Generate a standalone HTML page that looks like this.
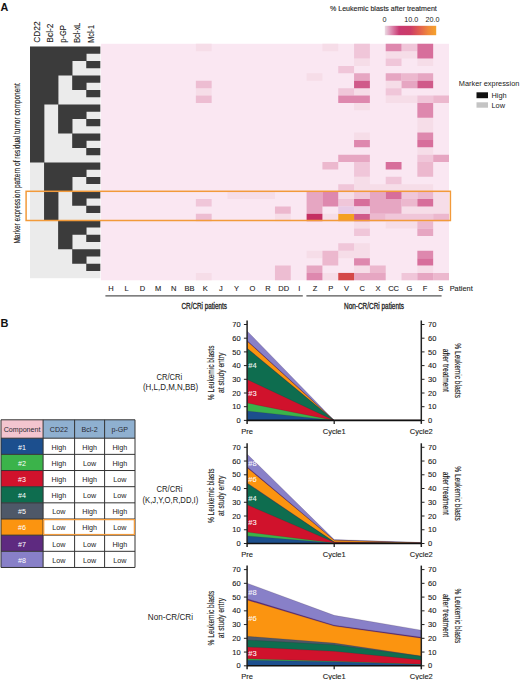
<!DOCTYPE html><html><head><meta charset="utf-8"><style>html,body{margin:0;padding:0;background:#fff;}svg{display:block;}text{font-family:"Liberation Sans", sans-serif;}</style></head><body>
<svg width="520" height="680" viewBox="0 0 520 680">
<rect width="520" height="680" fill="#fff"/>
<rect x="100.9" y="43.8" width="348.10" height="236.50" fill="#fae7f2"/>
<path d="M195.84,43.80h15.82v7.39h-15.82ZM322.42,43.80h15.82v7.39h-15.82ZM385.71,51.19h15.82v7.39h-15.82ZM401.53,51.19h15.82v7.39h-15.82ZM354.06,58.58h15.82v7.39h-15.82ZM417.35,58.58h15.82v7.39h-15.82ZM306.60,73.36h15.82v7.39h-15.82ZM385.71,80.75h15.82v7.39h-15.82ZM195.84,88.14h15.82v7.39h-15.82ZM354.06,88.14h15.82v7.39h-15.82ZM385.71,95.53h15.82v7.39h-15.82ZM401.53,95.53h15.82v7.39h-15.82ZM354.06,102.92h15.82v7.39h-15.82ZM417.35,117.71h15.82v7.39h-15.82ZM417.35,125.10h15.82v7.39h-15.82ZM354.06,132.49h15.82v7.39h-15.82ZM417.35,147.27h15.82v7.39h-15.82ZM354.06,176.83h15.82v7.39h-15.82ZM354.06,184.22h15.82v7.39h-15.82ZM369.89,184.22h15.82v7.39h-15.82ZM385.71,184.22h15.82v7.39h-15.82ZM401.53,184.22h15.82v7.39h-15.82ZM417.35,184.22h15.82v7.39h-15.82ZM227.48,191.61h15.82v7.39h-15.82ZM243.30,191.61h15.82v7.39h-15.82ZM259.13,191.61h15.82v7.39h-15.82ZM338.24,191.61h15.82v7.39h-15.82ZM433.18,191.61h15.82v7.39h-15.82ZM433.18,199.00h15.82v7.39h-15.82ZM401.53,206.39h15.82v7.39h-15.82ZM417.35,206.39h15.82v7.39h-15.82ZM433.18,206.39h15.82v7.39h-15.82ZM274.95,213.78h15.82v7.39h-15.82ZM322.42,213.78h15.82v7.39h-15.82ZM354.06,221.18h15.82v7.39h-15.82ZM385.71,221.18h15.82v7.39h-15.82ZM401.53,221.18h15.82v7.39h-15.82ZM354.06,243.35h15.82v7.39h-15.82ZM306.60,250.74h15.82v7.39h-15.82ZM338.24,250.74h15.82v7.39h-15.82ZM354.06,250.74h15.82v7.39h-15.82ZM354.06,265.52h15.82v7.39h-15.82ZM417.35,265.52h15.82v7.39h-15.82ZM195.84,272.91h15.82v7.39h-15.82ZM322.42,272.91h15.82v7.39h-15.82Z" fill="#f6dde8"/>
<path d="M354.06,43.80h15.82v7.39h-15.82ZM401.53,43.80h15.82v7.39h-15.82ZM354.06,51.19h15.82v7.39h-15.82ZM385.71,58.58h15.82v7.39h-15.82ZM338.24,65.97h15.82v7.39h-15.82ZM338.24,88.14h15.82v7.39h-15.82ZM385.71,88.14h15.82v7.39h-15.82ZM417.35,95.53h15.82v7.39h-15.82ZM417.35,154.66h15.82v7.39h-15.82ZM354.06,162.05h15.82v7.39h-15.82ZM354.06,169.44h15.82v7.39h-15.82ZM385.71,176.83h15.82v7.39h-15.82ZM338.24,184.22h15.82v7.39h-15.82ZM354.06,191.61h15.82v7.39h-15.82ZM401.53,191.61h15.82v7.39h-15.82ZM195.84,199.00h15.82v7.39h-15.82ZM338.24,199.00h15.82v7.39h-15.82ZM385.71,213.78h15.82v7.39h-15.82ZM401.53,213.78h15.82v7.39h-15.82ZM417.35,213.78h15.82v7.39h-15.82ZM354.06,228.57h15.82v7.39h-15.82ZM338.24,243.35h15.82v7.39h-15.82ZM401.53,272.91h15.82v7.39h-15.82Z" fill="#f0c6d9"/>
<path d="M401.53,73.36h15.82v7.39h-15.82ZM433.18,95.53h15.82v7.39h-15.82ZM322.42,162.05h15.82v7.39h-15.82ZM417.35,162.05h15.82v7.39h-15.82ZM417.35,169.44h15.82v7.39h-15.82ZM417.35,191.61h15.82v7.39h-15.82ZM401.53,199.00h15.82v7.39h-15.82ZM274.95,206.39h15.82v7.39h-15.82ZM369.89,213.78h15.82v7.39h-15.82ZM433.18,213.78h15.82v7.39h-15.82ZM417.35,221.18h15.82v7.39h-15.82ZM322.42,250.74h15.82v7.39h-15.82ZM322.42,258.13h15.82v7.39h-15.82ZM369.89,265.52h15.82v7.39h-15.82ZM433.18,272.91h15.82v7.39h-15.82Z" fill="#ecb8ce"/>
<path d="M354.06,73.36h15.82v7.39h-15.82ZM385.71,73.36h15.82v7.39h-15.82ZM417.35,73.36h15.82v7.39h-15.82ZM401.53,80.75h15.82v7.39h-15.82ZM338.24,154.66h15.82v7.39h-15.82ZM354.06,154.66h15.82v7.39h-15.82ZM433.18,154.66h15.82v7.39h-15.82ZM306.60,191.61h15.82v7.39h-15.82ZM369.89,191.61h15.82v7.39h-15.82ZM306.60,199.00h15.82v7.39h-15.82ZM369.89,199.00h15.82v7.39h-15.82ZM385.71,199.00h15.82v7.39h-15.82ZM306.60,206.39h15.82v7.39h-15.82ZM369.89,206.39h15.82v7.39h-15.82ZM385.71,206.39h15.82v7.39h-15.82ZM417.35,228.57h15.82v7.39h-15.82ZM306.60,265.52h15.82v7.39h-15.82ZM354.06,272.91h15.82v7.39h-15.82ZM369.89,272.91h15.82v7.39h-15.82ZM417.35,272.91h15.82v7.39h-15.82Z" fill="#e6a6c2"/>
<path d="M385.71,43.80h15.82v7.39h-15.82ZM338.24,95.53h15.82v7.39h-15.82ZM354.06,95.53h15.82v7.39h-15.82ZM417.35,102.92h15.82v7.39h-15.82ZM417.35,110.32h15.82v7.39h-15.82ZM417.35,132.49h15.82v7.39h-15.82ZM354.06,139.88h15.82v7.39h-15.82ZM322.42,191.61h15.82v7.39h-15.82ZM322.42,199.00h15.82v7.39h-15.82ZM417.35,250.74h15.82v7.39h-15.82ZM354.06,258.13h15.82v7.39h-15.82ZM306.60,272.91h15.82v7.39h-15.82Z" fill="#de88ae"/>
<path d="M417.35,43.80h15.82v7.39h-15.82ZM417.35,51.19h15.82v7.39h-15.82ZM417.35,139.88h15.82v7.39h-15.82ZM385.71,162.05h15.82v7.39h-15.82ZM385.71,191.61h15.82v7.39h-15.82ZM354.06,199.00h15.82v7.39h-15.82ZM417.35,199.00h15.82v7.39h-15.82ZM417.35,258.13h15.82v7.39h-15.82Z" fill="#d76e9b"/>
<path d="M354.06,80.75h15.82v7.39h-15.82ZM417.35,80.75h15.82v7.39h-15.82ZM354.06,213.78h15.82v7.39h-15.82Z" fill="#d05a8a"/>
<path d="M306.60,213.78h15.82v7.39h-15.82Z" fill="#c42f62"/>
<path d="M338.24,213.78h15.82v7.39h-15.82Z" fill="#f4a020"/>
<path d="M338.24,272.91h15.82v7.39h-15.82Z" fill="#d44848"/>
<path d="M195.84,80.75h15.82v7.39h-15.82ZM195.84,95.53h15.82v7.39h-15.82ZM195.84,213.78h15.82v7.39h-15.82ZM274.95,265.52h15.82v7.39h-15.82ZM274.95,272.91h15.82v7.39h-15.82Z" fill="#edbdd2"/>
<path d="M338.24,206.39h15.82v7.39h-15.82Z" fill="#e8cbe6"/>
<path d="M354.06,206.39h15.82v7.39h-15.82Z" fill="#efd0e4"/>
<rect x="30.0" y="46.6" width="70.30" height="231.60" fill="#ebebeb"/>
<path d="M30.00,46.60H44.36V162.40H30.00ZM44.06,46.60H58.42V104.50H44.06ZM44.06,162.40H58.42V220.30H44.06ZM58.12,46.60H72.48V75.55H58.12ZM58.12,104.50H72.48V133.45H58.12ZM58.12,162.40H72.48V191.35H58.12ZM58.12,220.30H72.48V249.25H58.12ZM72.18,46.60H86.54V61.08H72.18ZM72.18,75.55H86.54V90.02H72.18ZM72.18,104.50H86.54V118.97H72.18ZM72.18,133.45H86.54V147.92H72.18ZM72.18,162.40H86.54V176.88H72.18ZM72.18,191.35H86.54V205.82H72.18ZM72.18,220.30H86.54V234.77H72.18ZM72.18,249.25H86.54V263.73H72.18ZM86.24,46.60H100.30V53.84H86.24ZM86.24,61.08H100.30V68.31H86.24ZM86.24,75.55H100.30V82.79H86.24ZM86.24,90.03H100.30V97.26H86.24ZM86.24,104.50H100.30V111.74H86.24ZM86.24,118.97H100.30V126.21H86.24ZM86.24,133.45H100.30V140.69H86.24ZM86.24,147.93H100.30V155.16H86.24ZM86.24,162.40H100.30V169.64H86.24ZM86.24,176.88H100.30V184.11H86.24ZM86.24,191.35H100.30V198.59H86.24ZM86.24,205.82H100.30V213.06H86.24ZM86.24,220.30H100.30V227.54H86.24ZM86.24,234.77H100.30V242.01H86.24ZM86.24,249.25H100.30V256.49H86.24ZM86.24,263.73H100.30V270.96H86.24Z" fill="#3b3b3b"/>
<rect x="26.1" y="191.3" width="424.3" height="29.2" fill="none" stroke="#f29a3a" stroke-width="1.5"/>
<text x="0.4" y="10.5" font-size="10.8" font-weight="bold" fill="#111">A</text>
<text x="0.6" y="327.2" font-size="11" font-weight="bold" fill="#111">B</text>
<text transform="translate(39.9,42.7) rotate(-90)" font-size="8.8" fill="#222" stroke="#222" stroke-width="0.1" textLength="21.3" lengthAdjust="spacingAndGlyphs">CD22</text>
<text transform="translate(52.6,42.7) rotate(-90)" font-size="8.8" fill="#222" stroke="#222" stroke-width="0.1" textLength="19.2" lengthAdjust="spacingAndGlyphs">Bcl-2</text>
<text transform="translate(66.0,42.7) rotate(-90)" font-size="8.8" fill="#222" stroke="#222" stroke-width="0.1" textLength="17.6" lengthAdjust="spacingAndGlyphs">p-GP</text>
<text transform="translate(79.6,42.7) rotate(-90)" font-size="8.8" fill="#222" stroke="#222" stroke-width="0.1" textLength="19.9" lengthAdjust="spacingAndGlyphs">Bcl-xL</text>
<text transform="translate(93.8,42.7) rotate(-90)" font-size="8.8" fill="#222" stroke="#222" stroke-width="0.1" textLength="17.7" lengthAdjust="spacingAndGlyphs">Mcl-1</text>
<text transform="translate(19.5,243.6) rotate(-90)" font-size="9.2" fill="#222" stroke="#222" stroke-width="0.15" textLength="160.4" lengthAdjust="spacingAndGlyphs">Marker expression pattern of residual tumor component</text>
<defs><linearGradient id="cb" x1="0" x2="1" y1="0" y2="0"><stop offset="0" stop-color="#eadbe3"/><stop offset="0.12" stop-color="#de90b4"/><stop offset="0.28" stop-color="#c93a72"/><stop offset="0.5" stop-color="#cc3c66"/><stop offset="0.68" stop-color="#e2604e"/><stop offset="0.85" stop-color="#f08a3a"/><stop offset="1" stop-color="#f5a22c"/></linearGradient></defs>
<rect x="384.8" y="25.8" width="51.4" height="9.4" fill="url(#cb)"/>
<text x="330" y="10.8" font-size="7.1" fill="#222" stroke="#222" stroke-width="0.12" textLength="106.8" lengthAdjust="spacingAndGlyphs">% Leukemic blasts after treatment</text>
<text x="384.4" y="22.2" font-size="7.2" fill="#222" text-anchor="middle">0</text>
<text x="411.3" y="22.2" font-size="7.2" fill="#222" text-anchor="middle">10.0</text>
<text x="432.5" y="22.2" font-size="7.2" fill="#222" text-anchor="middle">20.0</text>
<text x="458.8" y="85.9" font-size="7.6" fill="#222" textLength="60.6" lengthAdjust="spacingAndGlyphs">Marker expression</text>
<rect x="476.5" y="92.3" width="11.5" height="5.9" fill="#111"/>
<rect x="476.5" y="102.3" width="11.5" height="5.4" fill="#c4c4c4"/>
<text x="491.5" y="98" font-size="7.4" fill="#222">High</text>
<text x="491.5" y="108" font-size="7.4" fill="#222">Low</text>
<text x="111.00" y="290.6" font-size="7.5" fill="#222" stroke="#222" stroke-width="0.1" text-anchor="middle">H</text>
<text x="126.70" y="290.6" font-size="7.5" fill="#222" stroke="#222" stroke-width="0.1" text-anchor="middle">L</text>
<text x="142.40" y="290.6" font-size="7.5" fill="#222" stroke="#222" stroke-width="0.1" text-anchor="middle">D</text>
<text x="158.10" y="290.6" font-size="7.5" fill="#222" stroke="#222" stroke-width="0.1" text-anchor="middle">M</text>
<text x="173.80" y="290.6" font-size="7.5" fill="#222" stroke="#222" stroke-width="0.1" text-anchor="middle">N</text>
<text x="189.50" y="290.6" font-size="7.5" fill="#222" stroke="#222" stroke-width="0.1" text-anchor="middle">BB</text>
<text x="205.20" y="290.6" font-size="7.5" fill="#222" stroke="#222" stroke-width="0.1" text-anchor="middle">K</text>
<text x="220.90" y="290.6" font-size="7.5" fill="#222" stroke="#222" stroke-width="0.1" text-anchor="middle">J</text>
<text x="236.60" y="290.6" font-size="7.5" fill="#222" stroke="#222" stroke-width="0.1" text-anchor="middle">Y</text>
<text x="252.30" y="290.6" font-size="7.5" fill="#222" stroke="#222" stroke-width="0.1" text-anchor="middle">O</text>
<text x="268.00" y="290.6" font-size="7.5" fill="#222" stroke="#222" stroke-width="0.1" text-anchor="middle">R</text>
<text x="283.70" y="290.6" font-size="7.5" fill="#222" stroke="#222" stroke-width="0.1" text-anchor="middle">DD</text>
<text x="299.40" y="290.6" font-size="7.5" fill="#222" stroke="#222" stroke-width="0.1" text-anchor="middle">I</text>
<text x="315.10" y="290.6" font-size="7.5" fill="#222" stroke="#222" stroke-width="0.1" text-anchor="middle">Z</text>
<text x="330.80" y="290.6" font-size="7.5" fill="#222" stroke="#222" stroke-width="0.1" text-anchor="middle">P</text>
<text x="346.50" y="290.6" font-size="7.5" fill="#222" stroke="#222" stroke-width="0.1" text-anchor="middle">V</text>
<text x="362.20" y="290.6" font-size="7.5" fill="#222" stroke="#222" stroke-width="0.1" text-anchor="middle">C</text>
<text x="377.90" y="290.6" font-size="7.5" fill="#222" stroke="#222" stroke-width="0.1" text-anchor="middle">X</text>
<text x="393.60" y="290.6" font-size="7.5" fill="#222" stroke="#222" stroke-width="0.1" text-anchor="middle">CC</text>
<text x="409.30" y="290.6" font-size="7.5" fill="#222" stroke="#222" stroke-width="0.1" text-anchor="middle">G</text>
<text x="425.00" y="290.6" font-size="7.5" fill="#222" stroke="#222" stroke-width="0.1" text-anchor="middle">F</text>
<text x="440.70" y="290.6" font-size="7.5" fill="#222" stroke="#222" stroke-width="0.1" text-anchor="middle">S</text>
<text x="449.7" y="290.6" font-size="7.5" fill="#222" stroke="#222" stroke-width="0.1" textLength="23" lengthAdjust="spacingAndGlyphs">Patient</text>
<line x1="105.4" y1="295.8" x2="302.8" y2="295.8" stroke="#555" stroke-width="1.2"/>
<line x1="306.4" y1="295.8" x2="441.6" y2="295.8" stroke="#555" stroke-width="1.2"/>
<text x="181.5" y="308.5" font-size="8.4" fill="#222" stroke="#222" stroke-width="0.3" textLength="45.4" lengthAdjust="spacingAndGlyphs">CR/CRi patients</text>
<text x="344" y="308.5" font-size="8.4" fill="#222" stroke="#222" stroke-width="0.3" textLength="60" lengthAdjust="spacingAndGlyphs">Non-CR/CRi patients</text>
<rect x="1.0" y="419.8" width="42.1" height="18.4" fill="#f3c5cf"/>
<rect x="43.1" y="419.8" width="91.9" height="18.4" fill="#8fb0d0"/>
<text x="22.05" y="431.50" font-size="7.1" fill="#2a2a33" text-anchor="middle">Component</text>
<text x="58.85" y="431.50" font-size="7.1" fill="#2a2a33" text-anchor="middle">CD22</text>
<text x="89.60" y="431.50" font-size="7.1" fill="#2a2a33" text-anchor="middle">Bcl-2</text>
<text x="119.80" y="431.50" font-size="7.1" fill="#2a2a33" text-anchor="middle">p-GP</text>
<rect x="1.0" y="438.20" width="42.1" height="16.16" fill="#1c4f8e"/>
<text x="22.05" y="449.58" font-size="7.1" fill="#fff" text-anchor="middle">#1</text>
<text x="58.85" y="449.58" font-size="7.2" fill="#222" text-anchor="middle">High</text>
<text x="89.60" y="449.58" font-size="7.2" fill="#222" text-anchor="middle">High</text>
<text x="119.80" y="449.58" font-size="7.2" fill="#222" text-anchor="middle">High</text>
<rect x="1.0" y="454.36" width="42.1" height="16.16" fill="#3bb34a"/>
<text x="22.05" y="465.74" font-size="7.1" fill="#fff" text-anchor="middle">#2</text>
<text x="58.85" y="465.74" font-size="7.2" fill="#222" text-anchor="middle">High</text>
<text x="89.60" y="465.74" font-size="7.2" fill="#222" text-anchor="middle">Low</text>
<text x="119.80" y="465.74" font-size="7.2" fill="#222" text-anchor="middle">High</text>
<rect x="1.0" y="470.52" width="42.1" height="16.16" fill="#d0122c"/>
<text x="22.05" y="481.90" font-size="7.1" fill="#fff" text-anchor="middle">#3</text>
<text x="58.85" y="481.90" font-size="7.2" fill="#222" text-anchor="middle">High</text>
<text x="89.60" y="481.90" font-size="7.2" fill="#222" text-anchor="middle">High</text>
<text x="119.80" y="481.90" font-size="7.2" fill="#222" text-anchor="middle">Low</text>
<rect x="1.0" y="486.68" width="42.1" height="16.16" fill="#0e6d4f"/>
<text x="22.05" y="498.06" font-size="7.1" fill="#fff" text-anchor="middle">#4</text>
<text x="58.85" y="498.06" font-size="7.2" fill="#222" text-anchor="middle">High</text>
<text x="89.60" y="498.06" font-size="7.2" fill="#222" text-anchor="middle">Low</text>
<text x="119.80" y="498.06" font-size="7.2" fill="#222" text-anchor="middle">Low</text>
<rect x="1.0" y="502.84" width="42.1" height="16.16" fill="#4e5868"/>
<text x="22.05" y="514.22" font-size="7.1" fill="#fff" text-anchor="middle">#5</text>
<text x="58.85" y="514.22" font-size="7.2" fill="#222" text-anchor="middle">Low</text>
<text x="89.60" y="514.22" font-size="7.2" fill="#222" text-anchor="middle">High</text>
<text x="119.80" y="514.22" font-size="7.2" fill="#222" text-anchor="middle">High</text>
<rect x="1.0" y="519.00" width="42.1" height="16.16" fill="#fb9410"/>
<text x="22.05" y="530.38" font-size="7.1" fill="#fff" text-anchor="middle">#6</text>
<text x="58.85" y="530.38" font-size="7.2" fill="#222" text-anchor="middle">Low</text>
<text x="89.60" y="530.38" font-size="7.2" fill="#222" text-anchor="middle">High</text>
<text x="119.80" y="530.38" font-size="7.2" fill="#222" text-anchor="middle">Low</text>
<rect x="1.0" y="535.16" width="42.1" height="16.16" fill="#5e2a80"/>
<text x="22.05" y="546.54" font-size="7.1" fill="#fff" text-anchor="middle">#7</text>
<text x="58.85" y="546.54" font-size="7.2" fill="#222" text-anchor="middle">Low</text>
<text x="89.60" y="546.54" font-size="7.2" fill="#222" text-anchor="middle">Low</text>
<text x="119.80" y="546.54" font-size="7.2" fill="#222" text-anchor="middle">High</text>
<rect x="1.0" y="551.32" width="42.1" height="16.16" fill="#8880c8"/>
<text x="22.05" y="562.70" font-size="7.1" fill="#fff" text-anchor="middle">#8</text>
<text x="58.85" y="562.70" font-size="7.2" fill="#222" text-anchor="middle">Low</text>
<text x="89.60" y="562.70" font-size="7.2" fill="#222" text-anchor="middle">Low</text>
<text x="119.80" y="562.70" font-size="7.2" fill="#222" text-anchor="middle">Low</text>
<line x1="1.0" y1="419.8" x2="1.0" y2="567.48" stroke="#333" stroke-width="1"/>
<line x1="43.1" y1="419.8" x2="43.1" y2="567.48" stroke="#333" stroke-width="1"/>
<line x1="74.6" y1="419.8" x2="74.6" y2="567.48" stroke="#333" stroke-width="1"/>
<line x1="104.6" y1="419.8" x2="104.6" y2="567.48" stroke="#333" stroke-width="1"/>
<line x1="135.0" y1="419.8" x2="135.0" y2="567.48" stroke="#333" stroke-width="1"/>
<line x1="1.0" y1="419.8" x2="135.0" y2="419.8" stroke="#333" stroke-width="1"/>
<line x1="1.0" y1="438.20" x2="135.0" y2="438.20" stroke="#333" stroke-width="1"/>
<line x1="1.0" y1="454.36" x2="135.0" y2="454.36" stroke="#333" stroke-width="1"/>
<line x1="1.0" y1="470.52" x2="135.0" y2="470.52" stroke="#333" stroke-width="1"/>
<line x1="1.0" y1="486.68" x2="135.0" y2="486.68" stroke="#333" stroke-width="1"/>
<line x1="1.0" y1="502.84" x2="135.0" y2="502.84" stroke="#333" stroke-width="1"/>
<line x1="1.0" y1="519.00" x2="135.0" y2="519.00" stroke="#333" stroke-width="1"/>
<line x1="1.0" y1="535.16" x2="135.0" y2="535.16" stroke="#333" stroke-width="1"/>
<line x1="1.0" y1="551.32" x2="135.0" y2="551.32" stroke="#333" stroke-width="1"/>
<line x1="1.0" y1="567.48" x2="135.0" y2="567.48" stroke="#333" stroke-width="1"/>
<rect x="43.7" y="519.60" width="90.70" height="14.96" fill="none" stroke="#f29a3a" stroke-width="1.3"/>
<path d="M247.10,330.94 L334.20,420.40 L421.30,420.40 L421.30,420.40 L247.10,420.40 Z" fill="#8880c8"/>
<path d="M247.10,340.53 L334.20,420.40 L421.30,420.40 L421.30,420.40 L247.10,420.40 Z" fill="#5e2a80"/>
<path d="M247.10,341.21 L334.20,420.40 L421.30,420.40 L421.30,420.40 L247.10,420.40 Z" fill="#fb9410"/>
<path d="M247.10,348.20 L334.20,420.40 L421.30,420.40 L421.30,420.40 L247.10,420.40 Z" fill="#4e5868"/>
<path d="M247.10,348.48 L334.20,420.40 L421.30,420.40 L421.30,420.40 L247.10,420.40 Z" fill="#0e6d4f"/>
<path d="M247.10,379.44 L334.20,420.40 L421.30,420.40 L421.30,420.40 L247.10,420.40 Z" fill="#d0122c"/>
<path d="M247.10,403.00 L334.20,420.40 L421.30,420.40 L421.30,420.40 L247.10,420.40 Z" fill="#3bb34a"/>
<path d="M247.10,410.95 L334.20,420.40 L421.30,420.40 L421.30,420.40 L247.10,420.40 Z" fill="#1c4f8e"/>
<path d="M247.10,410.95 L334.20,420.40 L421.30,420.40" fill="none" stroke="#3a2030" stroke-opacity="0.35" stroke-width="0.5"/>
<path d="M247.10,403.00 L334.20,420.40 L421.30,420.40" fill="none" stroke="#3a2030" stroke-opacity="0.35" stroke-width="0.5"/>
<path d="M247.10,379.44 L334.20,420.40 L421.30,420.40" fill="none" stroke="#3a2030" stroke-opacity="0.35" stroke-width="0.5"/>
<path d="M247.10,348.48 L334.20,420.40 L421.30,420.40" fill="none" stroke="#3a2030" stroke-opacity="0.35" stroke-width="0.5"/>
<path d="M247.10,348.20 L334.20,420.40 L421.30,420.40" fill="none" stroke="#3a2030" stroke-opacity="0.35" stroke-width="0.5"/>
<path d="M247.10,341.21 L334.20,420.40 L421.30,420.40" fill="none" stroke="#3a2030" stroke-opacity="0.35" stroke-width="0.5"/>
<path d="M247.10,340.53 L334.20,420.40 L421.30,420.40" fill="none" stroke="#3a2030" stroke-opacity="0.35" stroke-width="0.5"/>
<path d="M247.10,330.94 L334.20,420.40 L421.30,420.40" fill="none" stroke="#3a2030" stroke-opacity="0.35" stroke-width="0.5"/>
<text x="248.30" y="368.20" font-size="7.5" fill="#fff" stroke="#fff" stroke-width="0.1" fill-opacity="0.92">#4</text>
<text x="248.30" y="395.60" font-size="7.5" fill="#fff" stroke="#fff" stroke-width="0.1" fill-opacity="0.92">#3</text>
<line x1="247.1" y1="320.50" x2="247.1" y2="423.90" stroke="#222" stroke-width="1.5"/>
<line x1="421.3" y1="320.50" x2="421.3" y2="423.90" stroke="#222" stroke-width="1.5"/>
<line x1="247.1" y1="420.40" x2="421.3" y2="420.40" stroke="#111" stroke-width="1.6"/>
<line x1="334.2" y1="420.40" x2="334.2" y2="423.90" stroke="#222" stroke-width="1.3"/>
<line x1="243.9" y1="420.40" x2="247.1" y2="420.40" stroke="#222" stroke-width="1"/>
<line x1="421.3" y1="420.40" x2="424.5" y2="420.40" stroke="#222" stroke-width="1"/>
<text x="240.6" y="423.00" font-size="7.5" fill="#222" stroke="#222" stroke-width="0.12" text-anchor="end">0</text>
<text x="428" y="423.00" font-size="7.5" fill="#222" stroke="#222" stroke-width="0.12">0</text>
<line x1="243.9" y1="406.70" x2="247.1" y2="406.70" stroke="#222" stroke-width="1"/>
<line x1="421.3" y1="406.70" x2="424.5" y2="406.70" stroke="#222" stroke-width="1"/>
<text x="240.6" y="409.30" font-size="7.5" fill="#222" stroke="#222" stroke-width="0.12" text-anchor="end">10</text>
<text x="428" y="409.30" font-size="7.5" fill="#222" stroke="#222" stroke-width="0.12">10</text>
<line x1="243.9" y1="393.00" x2="247.1" y2="393.00" stroke="#222" stroke-width="1"/>
<line x1="421.3" y1="393.00" x2="424.5" y2="393.00" stroke="#222" stroke-width="1"/>
<text x="240.6" y="395.60" font-size="7.5" fill="#222" stroke="#222" stroke-width="0.12" text-anchor="end">20</text>
<text x="428" y="395.60" font-size="7.5" fill="#222" stroke="#222" stroke-width="0.12">20</text>
<line x1="243.9" y1="379.30" x2="247.1" y2="379.30" stroke="#222" stroke-width="1"/>
<line x1="421.3" y1="379.30" x2="424.5" y2="379.30" stroke="#222" stroke-width="1"/>
<text x="240.6" y="381.90" font-size="7.5" fill="#222" stroke="#222" stroke-width="0.12" text-anchor="end">30</text>
<text x="428" y="381.90" font-size="7.5" fill="#222" stroke="#222" stroke-width="0.12">30</text>
<line x1="243.9" y1="365.60" x2="247.1" y2="365.60" stroke="#222" stroke-width="1"/>
<line x1="421.3" y1="365.60" x2="424.5" y2="365.60" stroke="#222" stroke-width="1"/>
<text x="240.6" y="368.20" font-size="7.5" fill="#222" stroke="#222" stroke-width="0.12" text-anchor="end">40</text>
<text x="428" y="368.20" font-size="7.5" fill="#222" stroke="#222" stroke-width="0.12">40</text>
<line x1="243.9" y1="351.90" x2="247.1" y2="351.90" stroke="#222" stroke-width="1"/>
<line x1="421.3" y1="351.90" x2="424.5" y2="351.90" stroke="#222" stroke-width="1"/>
<text x="240.6" y="354.50" font-size="7.5" fill="#222" stroke="#222" stroke-width="0.12" text-anchor="end">50</text>
<text x="428" y="354.50" font-size="7.5" fill="#222" stroke="#222" stroke-width="0.12">50</text>
<line x1="243.9" y1="338.20" x2="247.1" y2="338.20" stroke="#222" stroke-width="1"/>
<line x1="421.3" y1="338.20" x2="424.5" y2="338.20" stroke="#222" stroke-width="1"/>
<text x="240.6" y="340.80" font-size="7.5" fill="#222" stroke="#222" stroke-width="0.12" text-anchor="end">60</text>
<text x="428" y="340.80" font-size="7.5" fill="#222" stroke="#222" stroke-width="0.12">60</text>
<line x1="243.9" y1="324.50" x2="247.1" y2="324.50" stroke="#222" stroke-width="1"/>
<line x1="421.3" y1="324.50" x2="424.5" y2="324.50" stroke="#222" stroke-width="1"/>
<text x="240.6" y="327.10" font-size="7.5" fill="#222" stroke="#222" stroke-width="0.12" text-anchor="end">70</text>
<text x="428" y="327.10" font-size="7.5" fill="#222" stroke="#222" stroke-width="0.12">70</text>
<text x="247.10" y="433.60" font-size="7.5" fill="#222" stroke="#222" stroke-width="0.12" text-anchor="middle">Pre</text>
<text x="334.20" y="433.60" font-size="7.5" fill="#222" stroke="#222" stroke-width="0.12" text-anchor="middle">Cycle1</text>
<text x="421.30" y="433.60" font-size="7.5" fill="#222" stroke="#222" stroke-width="0.12" text-anchor="middle">Cycle2</text>
<text transform="translate(214.1,372.85) rotate(-90)" font-size="9" fill="#222" stroke="#222" stroke-width="0.15" text-anchor="middle" textLength="54.6" lengthAdjust="spacingAndGlyphs">% Leukemic blasts</text>
<text transform="translate(223.7,372.85) rotate(-90)" font-size="9" fill="#222" stroke="#222" stroke-width="0.15" text-anchor="middle" textLength="40.3" lengthAdjust="spacingAndGlyphs">at study entry</text>
<text transform="translate(454.6,370.65) rotate(90)" font-size="9" fill="#222" stroke="#222" stroke-width="0.15" text-anchor="middle" textLength="54.6" lengthAdjust="spacingAndGlyphs">% Leukemic blasts</text>
<text transform="translate(443.0,370.35) rotate(90)" font-size="9" fill="#222" stroke="#222" stroke-width="0.15" text-anchor="middle" textLength="43" lengthAdjust="spacingAndGlyphs">after treatment</text>
<text x="169.4" y="380.0" font-size="8.6" fill="#222" text-anchor="middle" textLength="25.8" lengthAdjust="spacingAndGlyphs">CR/CRi</text>
<text x="170.6" y="390.4" font-size="8.6" fill="#222" text-anchor="middle" textLength="55.3" lengthAdjust="spacingAndGlyphs">(H,L,D,M,N,BB)</text>
<path d="M247.10,454.03 L334.20,539.58 L421.30,542.50 L421.30,543.50 L247.10,543.50 Z" fill="#8880c8"/>
<path d="M247.10,466.68 L334.20,540.13 L421.30,542.66 L421.30,543.50 L247.10,543.50 Z" fill="#5e2a80"/>
<path d="M247.10,467.64 L334.20,540.20 L421.30,542.69 L421.30,543.50 L247.10,543.50 Z" fill="#fb9410"/>
<path d="M247.10,482.89 L334.20,541.99 L421.30,543.10 L421.30,543.50 L247.10,543.50 Z" fill="#4e5868"/>
<path d="M247.10,483.58 L334.20,542.06 L421.30,543.13 L421.30,543.50 L247.10,543.50 Z" fill="#0e6d4f"/>
<path d="M247.10,504.75 L334.20,542.33 L421.30,543.20 L421.30,543.50 L247.10,543.50 Z" fill="#d0122c"/>
<path d="M247.10,532.09 L334.20,543.02 L421.30,543.36 L421.30,543.50 L247.10,543.50 Z" fill="#3bb34a"/>
<path d="M247.10,535.94 L334.20,543.09 L421.30,543.39 L421.30,543.50 L247.10,543.50 Z" fill="#1c4f8e"/>
<path d="M247.10,535.94 L334.20,543.09 L421.30,543.39" fill="none" stroke="#3a2030" stroke-opacity="0.35" stroke-width="0.5"/>
<path d="M247.10,532.09 L334.20,543.02 L421.30,543.36" fill="none" stroke="#3a2030" stroke-opacity="0.35" stroke-width="0.5"/>
<path d="M247.10,504.75 L334.20,542.33 L421.30,543.20" fill="none" stroke="#3a2030" stroke-opacity="0.35" stroke-width="0.5"/>
<path d="M247.10,483.58 L334.20,542.06 L421.30,543.13" fill="none" stroke="#3a2030" stroke-opacity="0.35" stroke-width="0.5"/>
<path d="M247.10,482.89 L334.20,541.99 L421.30,543.10" fill="none" stroke="#3a2030" stroke-opacity="0.35" stroke-width="0.5"/>
<path d="M247.10,467.64 L334.20,540.20 L421.30,542.69" fill="none" stroke="#3a2030" stroke-opacity="0.35" stroke-width="0.5"/>
<path d="M247.10,466.68 L334.20,540.13 L421.30,542.66" fill="none" stroke="#3a2030" stroke-opacity="0.35" stroke-width="0.5"/>
<path d="M247.10,454.03 L334.20,539.58 L421.30,542.50" fill="none" stroke="#3a2030" stroke-opacity="0.35" stroke-width="0.5"/>
<text x="248.30" y="466.39" font-size="7.5" fill="#fff" stroke="#fff" stroke-width="0.1" fill-opacity="0.92">#8</text>
<text x="248.30" y="482.06" font-size="7.5" fill="#fff" stroke="#fff" stroke-width="0.1" fill-opacity="0.92">#6</text>
<text x="248.30" y="501.44" font-size="7.5" fill="#fff" stroke="#fff" stroke-width="0.1" fill-opacity="0.92">#4</text>
<text x="248.30" y="524.94" font-size="7.5" fill="#fff" stroke="#fff" stroke-width="0.1" fill-opacity="0.92">#3</text>
<line x1="247.1" y1="443.30" x2="247.1" y2="547.00" stroke="#222" stroke-width="1.5"/>
<line x1="421.3" y1="443.30" x2="421.3" y2="547.00" stroke="#222" stroke-width="1.5"/>
<line x1="247.1" y1="543.50" x2="421.3" y2="543.50" stroke="#111" stroke-width="1.6"/>
<line x1="334.2" y1="543.50" x2="334.2" y2="547.00" stroke="#222" stroke-width="1.3"/>
<line x1="243.9" y1="543.50" x2="247.1" y2="543.50" stroke="#222" stroke-width="1"/>
<line x1="421.3" y1="543.50" x2="424.5" y2="543.50" stroke="#222" stroke-width="1"/>
<text x="240.6" y="546.10" font-size="7.5" fill="#222" stroke="#222" stroke-width="0.12" text-anchor="end">0</text>
<text x="428" y="546.10" font-size="7.5" fill="#222" stroke="#222" stroke-width="0.12">0</text>
<line x1="243.9" y1="529.76" x2="247.1" y2="529.76" stroke="#222" stroke-width="1"/>
<line x1="421.3" y1="529.76" x2="424.5" y2="529.76" stroke="#222" stroke-width="1"/>
<text x="240.6" y="532.36" font-size="7.5" fill="#222" stroke="#222" stroke-width="0.12" text-anchor="end">10</text>
<text x="428" y="532.36" font-size="7.5" fill="#222" stroke="#222" stroke-width="0.12">10</text>
<line x1="243.9" y1="516.01" x2="247.1" y2="516.01" stroke="#222" stroke-width="1"/>
<line x1="421.3" y1="516.01" x2="424.5" y2="516.01" stroke="#222" stroke-width="1"/>
<text x="240.6" y="518.61" font-size="7.5" fill="#222" stroke="#222" stroke-width="0.12" text-anchor="end">20</text>
<text x="428" y="518.61" font-size="7.5" fill="#222" stroke="#222" stroke-width="0.12">20</text>
<line x1="243.9" y1="502.27" x2="247.1" y2="502.27" stroke="#222" stroke-width="1"/>
<line x1="421.3" y1="502.27" x2="424.5" y2="502.27" stroke="#222" stroke-width="1"/>
<text x="240.6" y="504.87" font-size="7.5" fill="#222" stroke="#222" stroke-width="0.12" text-anchor="end">30</text>
<text x="428" y="504.87" font-size="7.5" fill="#222" stroke="#222" stroke-width="0.12">30</text>
<line x1="243.9" y1="488.53" x2="247.1" y2="488.53" stroke="#222" stroke-width="1"/>
<line x1="421.3" y1="488.53" x2="424.5" y2="488.53" stroke="#222" stroke-width="1"/>
<text x="240.6" y="491.13" font-size="7.5" fill="#222" stroke="#222" stroke-width="0.12" text-anchor="end">40</text>
<text x="428" y="491.13" font-size="7.5" fill="#222" stroke="#222" stroke-width="0.12">40</text>
<line x1="243.9" y1="474.79" x2="247.1" y2="474.79" stroke="#222" stroke-width="1"/>
<line x1="421.3" y1="474.79" x2="424.5" y2="474.79" stroke="#222" stroke-width="1"/>
<text x="240.6" y="477.39" font-size="7.5" fill="#222" stroke="#222" stroke-width="0.12" text-anchor="end">50</text>
<text x="428" y="477.39" font-size="7.5" fill="#222" stroke="#222" stroke-width="0.12">50</text>
<line x1="243.9" y1="461.04" x2="247.1" y2="461.04" stroke="#222" stroke-width="1"/>
<line x1="421.3" y1="461.04" x2="424.5" y2="461.04" stroke="#222" stroke-width="1"/>
<text x="240.6" y="463.64" font-size="7.5" fill="#222" stroke="#222" stroke-width="0.12" text-anchor="end">60</text>
<text x="428" y="463.64" font-size="7.5" fill="#222" stroke="#222" stroke-width="0.12">60</text>
<line x1="243.9" y1="447.30" x2="247.1" y2="447.30" stroke="#222" stroke-width="1"/>
<line x1="421.3" y1="447.30" x2="424.5" y2="447.30" stroke="#222" stroke-width="1"/>
<text x="240.6" y="449.90" font-size="7.5" fill="#222" stroke="#222" stroke-width="0.12" text-anchor="end">70</text>
<text x="428" y="449.90" font-size="7.5" fill="#222" stroke="#222" stroke-width="0.12">70</text>
<text x="247.10" y="556.70" font-size="7.5" fill="#222" stroke="#222" stroke-width="0.12" text-anchor="middle">Pre</text>
<text x="334.20" y="556.70" font-size="7.5" fill="#222" stroke="#222" stroke-width="0.12" text-anchor="middle">Cycle1</text>
<text x="421.30" y="556.70" font-size="7.5" fill="#222" stroke="#222" stroke-width="0.12" text-anchor="middle">Cycle2</text>
<text transform="translate(214.1,495.80) rotate(-90)" font-size="9" fill="#222" stroke="#222" stroke-width="0.15" text-anchor="middle" textLength="54.6" lengthAdjust="spacingAndGlyphs">% Leukemic blasts</text>
<text transform="translate(223.7,495.80) rotate(-90)" font-size="9" fill="#222" stroke="#222" stroke-width="0.15" text-anchor="middle" textLength="40.3" lengthAdjust="spacingAndGlyphs">at study entry</text>
<text transform="translate(454.6,493.60) rotate(90)" font-size="9" fill="#222" stroke="#222" stroke-width="0.15" text-anchor="middle" textLength="54.6" lengthAdjust="spacingAndGlyphs">% Leukemic blasts</text>
<text transform="translate(443.0,493.30) rotate(90)" font-size="9" fill="#222" stroke="#222" stroke-width="0.15" text-anchor="middle" textLength="43" lengthAdjust="spacingAndGlyphs">after treatment</text>
<text x="169.5" y="492.2" font-size="8.6" fill="#222" text-anchor="middle" textLength="26" lengthAdjust="spacingAndGlyphs">CR/CRi</text>
<text x="170.4" y="502.8" font-size="8.6" fill="#222" text-anchor="middle" textLength="55.8" lengthAdjust="spacingAndGlyphs">(K,J,Y,O,R,DD,I)</text>
<path d="M247.10,583.21 L334.20,615.36 L421.30,630.21 L421.30,665.80 L247.10,665.80 Z" fill="#8880c8"/>
<path d="M247.10,598.73 L334.20,625.26 L421.30,637.21 L421.30,665.80 L247.10,665.80 Z" fill="#5e2a80"/>
<path d="M247.10,599.97 L334.20,626.08 L421.30,638.18 L421.30,665.80 L247.10,665.80 Z" fill="#fb9410"/>
<path d="M247.10,636.25 L334.20,643.12 L421.30,656.04 L421.30,665.80 L247.10,665.80 Z" fill="#4e5868"/>
<path d="M247.10,639.96 L334.20,644.77 L421.30,656.32 L421.30,665.80 L247.10,665.80 Z" fill="#0e6d4f"/>
<path d="M247.10,646.97 L334.20,651.37 L421.30,659.89 L421.30,665.80 L247.10,665.80 Z" fill="#d0122c"/>
<path d="M247.10,658.79 L334.20,661.13 L421.30,664.29 L421.30,665.80 L247.10,665.80 Z" fill="#3bb34a"/>
<path d="M247.10,660.17 L334.20,661.81 L421.30,664.43 L421.30,665.80 L247.10,665.80 Z" fill="#1c4f8e"/>
<path d="M247.10,660.17 L334.20,661.81 L421.30,664.43" fill="none" stroke="#3a2030" stroke-opacity="0.35" stroke-width="0.5"/>
<path d="M247.10,658.79 L334.20,661.13 L421.30,664.29" fill="none" stroke="#3a2030" stroke-opacity="0.35" stroke-width="0.5"/>
<path d="M247.10,646.97 L334.20,651.37 L421.30,659.89" fill="none" stroke="#3a2030" stroke-opacity="0.35" stroke-width="0.5"/>
<path d="M247.10,639.96 L334.20,644.77 L421.30,656.32" fill="none" stroke="#3a2030" stroke-opacity="0.35" stroke-width="0.5"/>
<path d="M247.10,636.25 L334.20,643.12 L421.30,656.04" fill="none" stroke="#3a2030" stroke-opacity="0.35" stroke-width="0.5"/>
<path d="M247.10,599.97 L334.20,626.08 L421.30,638.18" fill="none" stroke="#3a2030" stroke-opacity="0.35" stroke-width="0.5"/>
<path d="M247.10,598.73 L334.20,625.26 L421.30,637.21" fill="none" stroke="#3a2030" stroke-opacity="0.35" stroke-width="0.5"/>
<path d="M247.10,583.21 L334.20,615.36 L421.30,630.21" fill="none" stroke="#3a2030" stroke-opacity="0.35" stroke-width="0.5"/>
<text x="248.30" y="595.15" font-size="7.5" fill="#fff" stroke="#fff" stroke-width="0.1" fill-opacity="0.92">#8</text>
<text x="248.30" y="620.99" font-size="7.5" fill="#fff" stroke="#fff" stroke-width="0.1" fill-opacity="0.92">#6</text>
<text x="248.30" y="655.76" font-size="7.5" fill="#fff" stroke="#fff" stroke-width="0.1" fill-opacity="0.92">#3</text>
<line x1="247.1" y1="565.60" x2="247.1" y2="669.30" stroke="#222" stroke-width="1.5"/>
<line x1="421.3" y1="565.60" x2="421.3" y2="669.30" stroke="#222" stroke-width="1.5"/>
<line x1="247.1" y1="665.80" x2="421.3" y2="665.80" stroke="#111" stroke-width="1.6"/>
<line x1="334.2" y1="665.80" x2="334.2" y2="669.30" stroke="#222" stroke-width="1.3"/>
<line x1="243.9" y1="665.80" x2="247.1" y2="665.80" stroke="#222" stroke-width="1"/>
<line x1="421.3" y1="665.80" x2="424.5" y2="665.80" stroke="#222" stroke-width="1"/>
<text x="240.6" y="668.40" font-size="7.5" fill="#222" stroke="#222" stroke-width="0.12" text-anchor="end">0</text>
<text x="428" y="668.40" font-size="7.5" fill="#222" stroke="#222" stroke-width="0.12">0</text>
<line x1="243.9" y1="652.06" x2="247.1" y2="652.06" stroke="#222" stroke-width="1"/>
<line x1="421.3" y1="652.06" x2="424.5" y2="652.06" stroke="#222" stroke-width="1"/>
<text x="240.6" y="654.66" font-size="7.5" fill="#222" stroke="#222" stroke-width="0.12" text-anchor="end">10</text>
<text x="428" y="654.66" font-size="7.5" fill="#222" stroke="#222" stroke-width="0.12">10</text>
<line x1="243.9" y1="638.31" x2="247.1" y2="638.31" stroke="#222" stroke-width="1"/>
<line x1="421.3" y1="638.31" x2="424.5" y2="638.31" stroke="#222" stroke-width="1"/>
<text x="240.6" y="640.91" font-size="7.5" fill="#222" stroke="#222" stroke-width="0.12" text-anchor="end">20</text>
<text x="428" y="640.91" font-size="7.5" fill="#222" stroke="#222" stroke-width="0.12">20</text>
<line x1="243.9" y1="624.57" x2="247.1" y2="624.57" stroke="#222" stroke-width="1"/>
<line x1="421.3" y1="624.57" x2="424.5" y2="624.57" stroke="#222" stroke-width="1"/>
<text x="240.6" y="627.17" font-size="7.5" fill="#222" stroke="#222" stroke-width="0.12" text-anchor="end">30</text>
<text x="428" y="627.17" font-size="7.5" fill="#222" stroke="#222" stroke-width="0.12">30</text>
<line x1="243.9" y1="610.83" x2="247.1" y2="610.83" stroke="#222" stroke-width="1"/>
<line x1="421.3" y1="610.83" x2="424.5" y2="610.83" stroke="#222" stroke-width="1"/>
<text x="240.6" y="613.43" font-size="7.5" fill="#222" stroke="#222" stroke-width="0.12" text-anchor="end">40</text>
<text x="428" y="613.43" font-size="7.5" fill="#222" stroke="#222" stroke-width="0.12">40</text>
<line x1="243.9" y1="597.09" x2="247.1" y2="597.09" stroke="#222" stroke-width="1"/>
<line x1="421.3" y1="597.09" x2="424.5" y2="597.09" stroke="#222" stroke-width="1"/>
<text x="240.6" y="599.69" font-size="7.5" fill="#222" stroke="#222" stroke-width="0.12" text-anchor="end">50</text>
<text x="428" y="599.69" font-size="7.5" fill="#222" stroke="#222" stroke-width="0.12">50</text>
<line x1="243.9" y1="583.34" x2="247.1" y2="583.34" stroke="#222" stroke-width="1"/>
<line x1="421.3" y1="583.34" x2="424.5" y2="583.34" stroke="#222" stroke-width="1"/>
<text x="240.6" y="585.94" font-size="7.5" fill="#222" stroke="#222" stroke-width="0.12" text-anchor="end">60</text>
<text x="428" y="585.94" font-size="7.5" fill="#222" stroke="#222" stroke-width="0.12">60</text>
<line x1="243.9" y1="569.60" x2="247.1" y2="569.60" stroke="#222" stroke-width="1"/>
<line x1="421.3" y1="569.60" x2="424.5" y2="569.60" stroke="#222" stroke-width="1"/>
<text x="240.6" y="572.20" font-size="7.5" fill="#222" stroke="#222" stroke-width="0.12" text-anchor="end">70</text>
<text x="428" y="572.20" font-size="7.5" fill="#222" stroke="#222" stroke-width="0.12">70</text>
<text x="247.10" y="679.00" font-size="7.5" fill="#222" stroke="#222" stroke-width="0.12" text-anchor="middle">Pre</text>
<text x="334.20" y="679.00" font-size="7.5" fill="#222" stroke="#222" stroke-width="0.12" text-anchor="middle">Cycle1</text>
<text x="421.30" y="679.00" font-size="7.5" fill="#222" stroke="#222" stroke-width="0.12" text-anchor="middle">Cycle2</text>
<text transform="translate(214.1,618.10) rotate(-90)" font-size="9" fill="#222" stroke="#222" stroke-width="0.15" text-anchor="middle" textLength="54.6" lengthAdjust="spacingAndGlyphs">% Leukemic blasts</text>
<text transform="translate(223.7,618.10) rotate(-90)" font-size="9" fill="#222" stroke="#222" stroke-width="0.15" text-anchor="middle" textLength="40.3" lengthAdjust="spacingAndGlyphs">at study entry</text>
<text transform="translate(454.6,615.90) rotate(90)" font-size="9" fill="#222" stroke="#222" stroke-width="0.15" text-anchor="middle" textLength="54.6" lengthAdjust="spacingAndGlyphs">% Leukemic blasts</text>
<text transform="translate(443.0,615.60) rotate(90)" font-size="9" fill="#222" stroke="#222" stroke-width="0.15" text-anchor="middle" textLength="43" lengthAdjust="spacingAndGlyphs">after treatment</text>
<text x="170.4" y="620.3" font-size="8.6" fill="#222" text-anchor="middle" textLength="45.1" lengthAdjust="spacingAndGlyphs">Non-CR/CRi</text>
</svg></body></html>
